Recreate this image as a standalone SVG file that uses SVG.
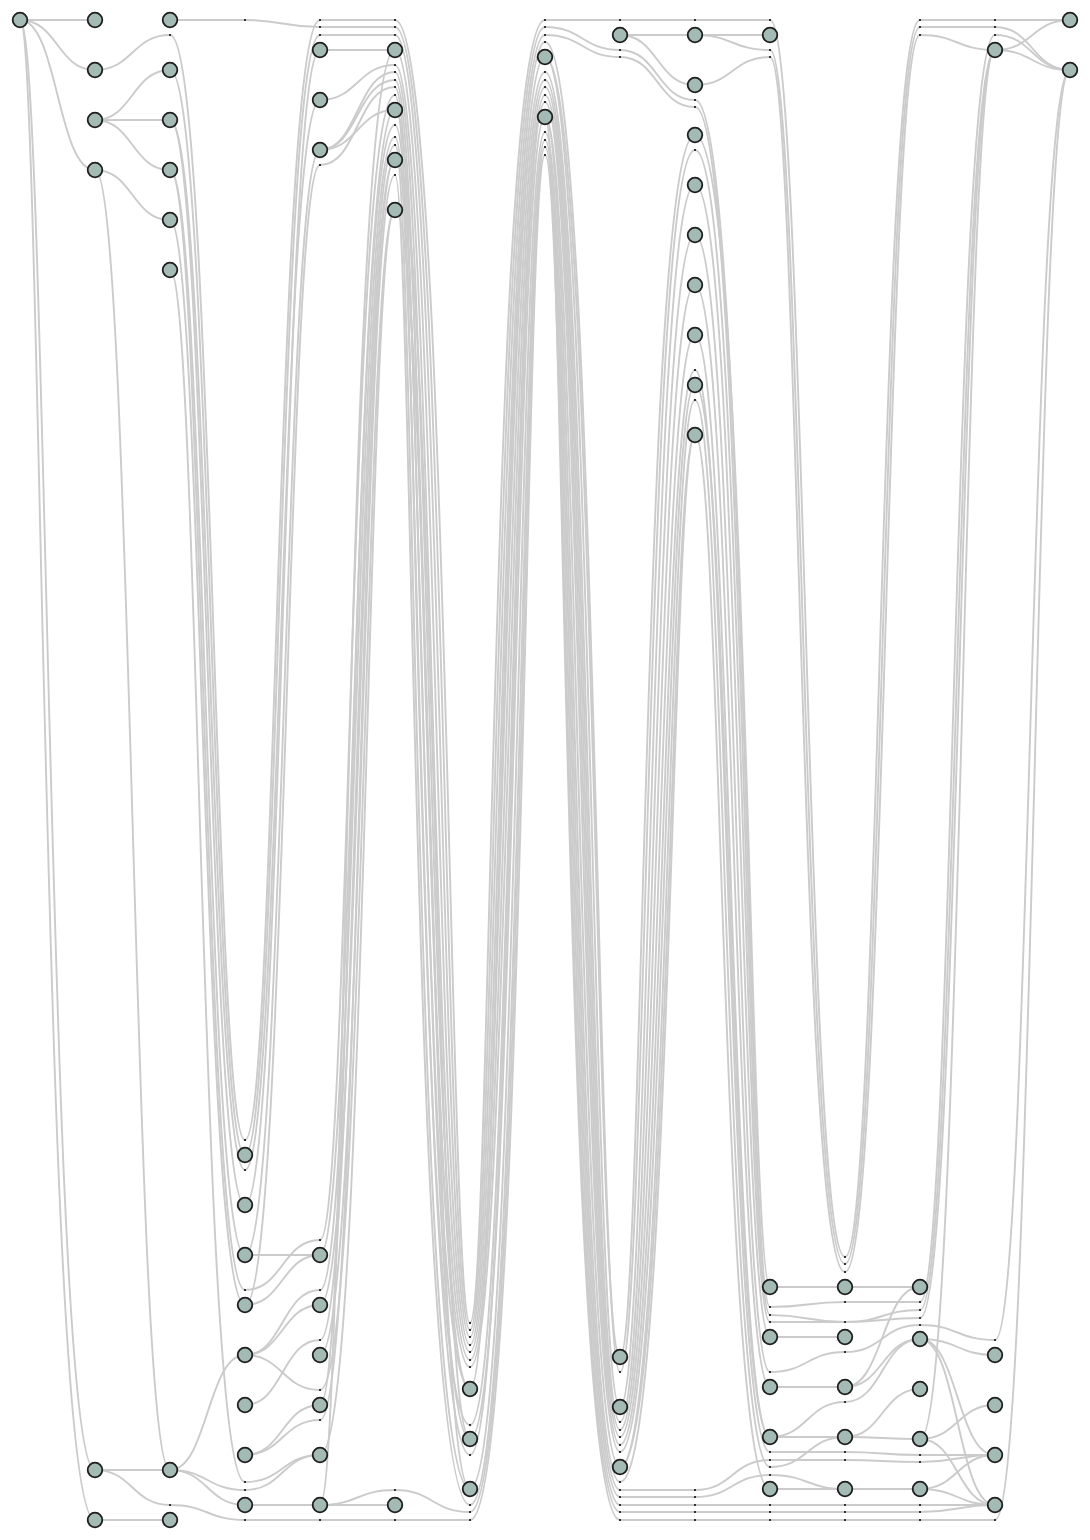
<svg xmlns="http://www.w3.org/2000/svg" width="1090" height="1540" viewBox="0 0 1090 1540">
<style>
.e{fill:none;stroke:#cbcbcb;stroke-width:1.9}
.dots{fill:#333}
.n circle{fill:#a4bab4;stroke:#1e1e1e;stroke-width:1.8}
</style>
<rect width="1090" height="1540" fill="#fff"/>
<g id="connectors">
<g class="e">
<path d="M20 20H95"/><path d="M20 20C57.5 20 57.5 70 95 70"/><path d="M20 20C57.5 20 57.5 170 95 170"/><path d="M20 20C47.5 20 47.5 1470 95 1470"/><path d="M20 20C42 20 42 1520 95 1520"/>
<path d="M95 70C132.5 70 132.5 35 170 35"/><path d="M95 120C132.5 120 132.5 70 170 70"/><path d="M95 120H170"/><path d="M95 120C132.5 120 132.5 170 170 170"/><path d="M95 170C132.5 170 132.5 220 170 220"/><path d="M95 170C132.5 170 132.5 1470 170 1470"/><path d="M95 1470H170"/><path d="M95 1470C132.5 1470 132.5 1505 170 1505"/><path d="M95 1520H170"/>
<path d="M170 20H245"/><path d="M170 35C213.5 35 213.5 1140 245 1140"/><path d="M170 70C211.5 70 211.5 1155 245 1155"/><path d="M170 120C209.5 120 209.5 1170 245 1170"/><path d="M170 120C207.5 120 207.5 1205 245 1205"/><path d="M170 170C205.5 170 205.5 1255 245 1255"/><path d="M170 170C203.5 170 203.5 1290 245 1290"/><path d="M170 220C202.5 220 202.5 1305 245 1305"/><path d="M170 270C199.5 270 199.5 1482 245 1482"/><path d="M170 1470C207.5 1470 207.5 1355 245 1355"/><path d="M170 1470C207.5 1470 207.5 1505 245 1505"/><path d="M170 1470C207.5 1470 207.5 1490 245 1490"/><path d="M170 1505C207.5 1505 207.5 1520 245 1520"/>
<path d="M245 20C282.5 20 282.5 27 320 27"/><path d="M245 1140C276.5 1140 276.5 20 320 20"/><path d="M245 1155C278.5 1155 278.5 35 320 35"/><path d="M245 1170C280.5 1170 280.5 100 320 100"/><path d="M245 1205C282.5 1205 282.5 50 320 50"/><path d="M245 1255C284.5 1255 284.5 150 320 150"/><path d="M245 1305C286.5 1305 286.5 165 320 165"/><path d="M245 1255H320"/><path d="M245 1290C282.5 1290 282.5 1240 320 1240"/><path d="M245 1305C282.5 1305 282.5 1255 320 1255"/><path d="M245 1355C282.5 1355 282.5 1290 320 1290"/><path d="M245 1355C282.5 1355 282.5 1305 320 1305"/><path d="M245 1355C282.5 1355 282.5 1390 320 1390"/><path d="M245 1405C282.5 1405 282.5 1340 320 1340"/><path d="M245 1455C282.5 1455 282.5 1405 320 1405"/><path d="M245 1455C282.5 1455 282.5 1420 320 1420"/><path d="M245 1482C282.5 1482 282.5 1455 320 1455"/><path d="M245 1490C282.5 1490 282.5 1455 320 1455"/><path d="M245 1505H320"/><path d="M245 1520H320"/>
<path d="M320 20H395"/><path d="M320 27H395"/><path d="M320 35H395"/><path d="M320 50H395"/><path d="M320 100C357.5 100 357.5 65 395 65"/><path d="M320 150C357.5 150 357.5 72 395 72"/><path d="M320 150C357.5 150 357.5 80 395 80"/><path d="M320 150C357.5 150 357.5 110 395 110"/><path d="M320 165C357.5 165 357.5 87 395 87"/><path d="M320 1240C349.5 1240 349.5 95 395 95"/><path d="M320 1255C353.5 1255 353.5 125 395 125"/><path d="M320 1290C355.5 1290 355.5 137 395 137"/><path d="M320 1305C359.5 1305 359.5 160 395 160"/><path d="M320 1340C357.5 1340 357.5 145 395 145"/><path d="M320 1355C362.5 1355 362.5 175 395 175"/><path d="M320 1390C364.5 1390 364.5 210 395 210"/><path d="M320 1405C351.5 1405 351.5 110 395 110"/><path d="M320 1420C360.5 1420 360.5 160 395 160"/><path d="M320 1455C366.5 1455 366.5 210 395 210"/><path d="M320 1505H395"/><path d="M320 1505C357.5 1505 357.5 1490 395 1490"/><path d="M320 1505C345.5 1505 345.5 50 395 50"/><path d="M320 1520H395"/>
<path d="M395 20C448.5 20 448.5 1323 470 1323"/><path d="M395 27C444.5 27 444.5 1330 470 1330"/><path d="M395 35C440.5 35 440.5 1337 470 1337"/><path d="M395 50C436.5 50 436.5 1345 470 1345"/><path d="M395 65C432.5 65 432.5 1352 470 1352"/><path d="M395 72C428.5 72 428.5 1360 470 1360"/><path d="M395 80C424.5 80 424.5 1367 470 1367"/><path d="M395 87C420.5 87 420.5 1389 470 1389"/><path d="M395 95C416.5 95 416.5 1425 470 1425"/><path d="M395 110C426.5 110 426.5 1389 470 1389"/><path d="M395 125C422.5 125 422.5 1439 470 1439"/><path d="M395 137C418.5 137 418.5 1455 470 1455"/><path d="M395 145C414.5 145 414.5 1489 470 1489"/><path d="M395 160C434.5 160 434.5 1439 470 1439"/><path d="M395 175C412.5 175 412.5 1505 470 1505"/><path d="M395 210C430.5 210 430.5 1489 470 1489"/><path d="M395 1490C432.5 1490 432.5 1512 470 1512"/><path d="M395 1520H470"/>
<path d="M470 1323C491.5 1323 491.5 20 545 20"/><path d="M470 1330C494.5 1330 494.5 27 545 27"/><path d="M470 1337C497.5 1337 497.5 35 545 35"/><path d="M470 1345C500.5 1345 500.5 42 545 42"/><path d="M470 1352C503.5 1352 503.5 72 545 72"/><path d="M470 1360C506.5 1360 506.5 80 545 80"/><path d="M470 1367C509.5 1367 509.5 87 545 87"/><path d="M470 1389C501.5 1389 501.5 57 545 57"/><path d="M470 1425C511.5 1425 511.5 95 545 95"/><path d="M470 1439C514.5 1439 514.5 117 545 117"/><path d="M470 1455C512.5 1455 512.5 102 545 102"/><path d="M470 1489C517.5 1489 517.5 132 545 132"/><path d="M470 1505C520.5 1505 520.5 140 545 140"/><path d="M470 1512C522.5 1512 522.5 147 545 147"/><path d="M470 1520C524.5 1520 524.5 155 545 155"/>
<path d="M545 20H620"/><path d="M545 27C582.5 27 582.5 50 620 50"/><path d="M545 35C582.5 35 582.5 57 620 57"/><path d="M545 42C596.5 42 596.5 1372 620 1372"/><path d="M545 57C594.5 57 594.5 1357 620 1357"/><path d="M545 57C591.5 57 591.5 1407 620 1407"/><path d="M545 72C588.5 72 588.5 1422 620 1422"/><path d="M545 80C586.5 80 586.5 1430 620 1430"/><path d="M545 87C584.5 87 584.5 1437 620 1437"/><path d="M545 95C582.5 95 582.5 1445 620 1445"/><path d="M545 102C580.5 102 580.5 1452 620 1452"/><path d="M545 117C577.5 117 577.5 1467 620 1467"/><path d="M545 117C574.5 117 574.5 1482 620 1482"/><path d="M545 132C572.5 132 572.5 1490 620 1490"/><path d="M545 140C570.5 140 570.5 1497 620 1497"/><path d="M545 147C568.5 147 568.5 1505 620 1505"/><path d="M545 155C566.5 155 566.5 1512 620 1512"/><path d="M545 117C564.5 117 564.5 1520 620 1520"/>
<path d="M620 20H695"/><path d="M620 35H695"/><path d="M620 35C657.5 35 657.5 85 695 85"/><path d="M620 50C657.5 50 657.5 100 695 100"/><path d="M620 57C657.5 57 657.5 107 695 107"/><path d="M620 1357C643.5 1357 643.5 135 695 135"/><path d="M620 1372C646.5 1372 646.5 150 695 150"/><path d="M620 1407C649.5 1407 649.5 185 695 185"/><path d="M620 1422C652.5 1422 652.5 235 695 235"/><path d="M620 1430C655.5 1430 655.5 285 695 285"/><path d="M620 1437C658.5 1437 658.5 335 695 335"/><path d="M620 1445C661.5 1445 661.5 370 695 370"/><path d="M620 1452C664.5 1452 664.5 385 695 385"/><path d="M620 1467C667.5 1467 667.5 400 695 400"/><path d="M620 1467C669.5 1467 669.5 435 695 435"/><path d="M620 1482C671.5 1482 671.5 435 695 435"/><path d="M620 1490H695"/><path d="M620 1497H695"/><path d="M620 1505H695"/><path d="M620 1512H695"/><path d="M620 1520H695"/>
<path d="M695 20H770"/><path d="M695 35H770"/><path d="M695 35C732.5 35 732.5 50 770 50"/><path d="M695 85C732.5 85 732.5 57 770 57"/><path d="M695 100C746.5 100 746.5 1307 770 1307"/><path d="M695 107C744.5 107 744.5 1315 770 1315"/><path d="M695 135C748.5 135 748.5 1287 770 1287"/><path d="M695 150C742.5 150 742.5 1322 770 1322"/><path d="M695 185C739.5 185 739.5 1337 770 1337"/><path d="M695 235C736.5 235 736.5 1372 770 1372"/><path d="M695 285C733.5 285 733.5 1387 770 1387"/><path d="M695 335C730.5 335 730.5 1437 770 1437"/><path d="M695 370C727.5 370 727.5 1452 770 1452"/><path d="M695 385C729.5 385 729.5 1437 770 1437"/><path d="M695 400C724.5 400 724.5 1467 770 1467"/><path d="M695 435C721.5 435 721.5 1489 770 1489"/><path d="M695 1490C732.5 1490 732.5 1460 770 1460"/><path d="M695 1497C732.5 1497 732.5 1475 770 1475"/><path d="M695 1505H770"/><path d="M695 1512H770"/><path d="M695 1520H770"/>
<path d="M770 20C805.5 20 805.5 1257 845 1257"/><path d="M770 50C802.5 50 802.5 1264 845 1264"/><path d="M770 57C799.5 57 799.5 1272 845 1272"/><path d="M770 1287H845"/><path d="M770 1307C807.5 1307 807.5 1302 845 1302"/><path d="M770 1315C807.5 1315 807.5 1322 845 1322"/><path d="M770 1322H845"/><path d="M770 1337H845"/><path d="M770 1372C807.5 1372 807.5 1352 845 1352"/><path d="M770 1387H845"/><path d="M770 1437C807.5 1437 807.5 1402 845 1402"/><path d="M770 1437H845"/><path d="M770 1452H845"/><path d="M770 1460H845"/><path d="M770 1467C807.5 1467 807.5 1437 845 1437"/><path d="M770 1475C807.5 1475 807.5 1489 845 1489"/><path d="M770 1489H845"/><path d="M770 1505H845"/><path d="M770 1512H845"/><path d="M770 1520H845"/>
<path d="M845 1257C879.5 1257 879.5 20 920 20"/><path d="M845 1264C882.5 1264 882.5 27 920 27"/><path d="M845 1272C885.5 1272 885.5 35 920 35"/><path d="M845 1287H920"/><path d="M845 1302H920"/><path d="M845 1322C882.5 1322 882.5 1310 920 1310"/><path d="M845 1322C882.5 1322 882.5 1318 920 1318"/><path d="M845 1352C882.5 1352 882.5 1325 920 1325"/><path d="M845 1387C882.5 1387 882.5 1287 920 1287"/><path d="M845 1387C882.5 1387 882.5 1339 920 1339"/><path d="M845 1402C882.5 1402 882.5 1339 920 1339"/><path d="M845 1437C882.5 1437 882.5 1389 920 1389"/><path d="M845 1437C882.5 1437 882.5 1439 920 1439"/><path d="M845 1452C882.5 1452 882.5 1455 920 1455"/><path d="M845 1460C882.5 1460 882.5 1462 920 1462"/><path d="M845 1489H920"/><path d="M845 1505H920"/><path d="M845 1512H920"/><path d="M845 1520H920"/>
<path d="M920 20H995"/><path d="M920 27H995"/><path d="M920 35C957.5 35 957.5 50 995 50"/><path d="M920 1302C953.5 1302 953.5 35 995 35"/><path d="M920 1310C956.5 1310 956.5 50 995 50"/><path d="M920 1318C959.5 1318 959.5 50 995 50"/><path d="M920 1439C962.5 1439 962.5 50 995 50"/><path d="M920 1325C957.5 1325 957.5 1340 995 1340"/><path d="M920 1339C957.5 1339 957.5 1355 995 1355"/><path d="M920 1339C957.5 1339 957.5 1455 995 1455"/><path d="M920 1339C957.5 1339 957.5 1505 995 1505"/><path d="M920 1439C957.5 1439 957.5 1405 995 1405"/><path d="M920 1439C957.5 1439 957.5 1505 995 1505"/><path d="M920 1455H995"/><path d="M920 1462C957.5 1462 957.5 1455 995 1455"/><path d="M920 1489C957.5 1489 957.5 1455 995 1455"/><path d="M920 1489C957.5 1489 957.5 1505 995 1505"/><path d="M920 1505H995"/><path d="M920 1512C957.5 1512 957.5 1505 995 1505"/><path d="M920 1520H995"/>
<path d="M995 20H1070"/><path d="M995 27C1032.5 27 1032.5 70 1070 70"/><path d="M995 35C1032.5 35 1032.5 70 1070 70"/><path d="M995 50C1032.5 50 1032.5 20 1070 20"/><path d="M995 50C1032.5 50 1032.5 70 1070 70"/><path d="M995 1340C1030.5 1340 1030.5 70 1070 70"/><path d="M995 1520C1034.5 1520 1034.5 70 1070 70"/>
</g>
<path class="dots" d="M169 34h2v2h-2zM169 1504h2v2h-2z
M244 19h2v2h-2zM244 1139h2v2h-2zM244 1169h2v2h-2zM244 1289h2v2h-2zM244 1481h2v2h-2zM244 1489h2v2h-2zM244 1519h2v2h-2z
M319 19h2v2h-2zM319 26h2v2h-2zM319 34h2v2h-2zM319 164h2v2h-2zM319 1239h2v2h-2zM319 1289h2v2h-2zM319 1339h2v2h-2zM319 1389h2v2h-2zM319 1419h2v2h-2zM319 1519h2v2h-2z
M394 19h2v2h-2zM394 26h2v2h-2zM394 34h2v2h-2zM394 64h2v2h-2zM394 71h2v2h-2zM394 79h2v2h-2zM394 86h2v2h-2zM394 94h2v2h-2zM394 124h2v2h-2zM394 136h2v2h-2zM394 144h2v2h-2zM394 174h2v2h-2zM394 1489h2v2h-2zM394 1519h2v2h-2z
M469 1322h2v2h-2zM469 1329h2v2h-2zM469 1336h2v2h-2zM469 1344h2v2h-2zM469 1351h2v2h-2zM469 1359h2v2h-2zM469 1366h2v2h-2zM469 1424h2v2h-2zM469 1454h2v2h-2zM469 1504h2v2h-2zM469 1511h2v2h-2zM469 1519h2v2h-2z
M544 19h2v2h-2zM544 26h2v2h-2zM544 34h2v2h-2zM544 41h2v2h-2zM544 71h2v2h-2zM544 79h2v2h-2zM544 86h2v2h-2zM544 94h2v2h-2zM544 101h2v2h-2zM544 131h2v2h-2zM544 139h2v2h-2zM544 146h2v2h-2zM544 154h2v2h-2z
M619 19h2v2h-2zM619 49h2v2h-2zM619 56h2v2h-2zM619 1371h2v2h-2zM619 1421h2v2h-2zM619 1429h2v2h-2zM619 1436h2v2h-2zM619 1444h2v2h-2zM619 1451h2v2h-2zM619 1481h2v2h-2zM619 1489h2v2h-2zM619 1496h2v2h-2zM619 1504h2v2h-2zM619 1511h2v2h-2zM619 1519h2v2h-2z
M694 19h2v2h-2zM694 99h2v2h-2zM694 106h2v2h-2zM694 149h2v2h-2zM694 369h2v2h-2zM694 399h2v2h-2zM694 1489h2v2h-2zM694 1496h2v2h-2zM694 1504h2v2h-2zM694 1511h2v2h-2zM694 1519h2v2h-2z
M769 19h2v2h-2zM769 49h2v2h-2zM769 56h2v2h-2zM769 1306h2v2h-2zM769 1314h2v2h-2zM769 1321h2v2h-2zM769 1371h2v2h-2zM769 1451h2v2h-2zM769 1459h2v2h-2zM769 1466h2v2h-2zM769 1474h2v2h-2zM769 1504h2v2h-2zM769 1511h2v2h-2zM769 1519h2v2h-2z
M844 1256h2v2h-2zM844 1263h2v2h-2zM844 1271h2v2h-2zM844 1301h2v2h-2zM844 1321h2v2h-2zM844 1351h2v2h-2zM844 1401h2v2h-2zM844 1451h2v2h-2zM844 1459h2v2h-2zM844 1504h2v2h-2zM844 1511h2v2h-2zM844 1519h2v2h-2z
M919 19h2v2h-2zM919 26h2v2h-2zM919 34h2v2h-2zM919 1301h2v2h-2zM919 1309h2v2h-2zM919 1317h2v2h-2zM919 1324h2v2h-2zM919 1454h2v2h-2zM919 1461h2v2h-2zM919 1504h2v2h-2zM919 1511h2v2h-2zM919 1519h2v2h-2z
M994 19h2v2h-2zM994 26h2v2h-2zM994 34h2v2h-2zM994 1339h2v2h-2zM994 1519h2v2h-2z"/>
</g>
<g id="nodes" class="n">
<g id="n0"><circle cx="20" cy="20" r="7.3"/></g>
<g id="n1a"><circle cx="95" cy="20" r="7.3"/></g>
<g id="n1b"><circle cx="95" cy="70" r="7.3"/></g>
<g id="n1c"><circle cx="95" cy="120" r="7.3"/></g>
<g id="n1d"><circle cx="95" cy="170" r="7.3"/></g>
<g id="n1e"><circle cx="95" cy="1470" r="7.3"/></g>
<g id="n1f"><circle cx="95" cy="1520" r="7.3"/></g>
<g id="n2a"><circle cx="170" cy="20" r="7.3"/></g>
<g id="n2b"><circle cx="170" cy="70" r="7.3"/></g>
<g id="n2c"><circle cx="170" cy="120" r="7.3"/></g>
<g id="n2d"><circle cx="170" cy="170" r="7.3"/></g>
<g id="n2e"><circle cx="170" cy="220" r="7.3"/></g>
<g id="n2f"><circle cx="170" cy="270" r="7.3"/></g>
<g id="n2g"><circle cx="170" cy="1470" r="7.3"/></g>
<g id="n2h"><circle cx="170" cy="1520" r="7.3"/></g>
<g id="n3a"><circle cx="245" cy="1155" r="7.3"/></g>
<g id="n3b"><circle cx="245" cy="1205" r="7.3"/></g>
<g id="n3c"><circle cx="245" cy="1255" r="7.3"/></g>
<g id="n3d"><circle cx="245" cy="1305" r="7.3"/></g>
<g id="n3e"><circle cx="245" cy="1355" r="7.3"/></g>
<g id="n3f"><circle cx="245" cy="1405" r="7.3"/></g>
<g id="n3g"><circle cx="245" cy="1455" r="7.3"/></g>
<g id="n3h"><circle cx="245" cy="1505" r="7.3"/></g>
<g id="n4a"><circle cx="320" cy="50" r="7.3"/></g>
<g id="n4b"><circle cx="320" cy="100" r="7.3"/></g>
<g id="n4c"><circle cx="320" cy="150" r="7.3"/></g>
<g id="n4d"><circle cx="320" cy="1255" r="7.3"/></g>
<g id="n4e"><circle cx="320" cy="1305" r="7.3"/></g>
<g id="n4f"><circle cx="320" cy="1355" r="7.3"/></g>
<g id="n4g"><circle cx="320" cy="1405" r="7.3"/></g>
<g id="n4h"><circle cx="320" cy="1455" r="7.3"/></g>
<g id="n4i"><circle cx="320" cy="1505" r="7.3"/></g>
<g id="n5a"><circle cx="395" cy="50" r="7.3"/></g>
<g id="n5b"><circle cx="395" cy="110" r="7.3"/></g>
<g id="n5c"><circle cx="395" cy="160" r="7.3"/></g>
<g id="n5d"><circle cx="395" cy="210" r="7.3"/></g>
<g id="n5e"><circle cx="395" cy="1505" r="7.3"/></g>
<g id="n6a"><circle cx="470" cy="1389" r="7.3"/></g>
<g id="n6b"><circle cx="470" cy="1439" r="7.3"/></g>
<g id="n6c"><circle cx="470" cy="1489" r="7.3"/></g>
<g id="n7a"><circle cx="545" cy="57" r="7.3"/></g>
<g id="n7b"><circle cx="545" cy="117" r="7.3"/></g>
<g id="n8a"><circle cx="620" cy="35" r="7.3"/></g>
<g id="n8b"><circle cx="620" cy="1357" r="7.3"/></g>
<g id="n8c"><circle cx="620" cy="1407" r="7.3"/></g>
<g id="n8d"><circle cx="620" cy="1467" r="7.3"/></g>
<g id="n9a"><circle cx="695" cy="35" r="7.3"/></g>
<g id="n9b"><circle cx="695" cy="85" r="7.3"/></g>
<g id="n9c"><circle cx="695" cy="135" r="7.3"/></g>
<g id="n9d"><circle cx="695" cy="185" r="7.3"/></g>
<g id="n9e"><circle cx="695" cy="235" r="7.3"/></g>
<g id="n9f"><circle cx="695" cy="285" r="7.3"/></g>
<g id="n9g"><circle cx="695" cy="335" r="7.3"/></g>
<g id="n9h"><circle cx="695" cy="385" r="7.3"/></g>
<g id="n9i"><circle cx="695" cy="435" r="7.3"/></g>
<g id="n10a"><circle cx="770" cy="35" r="7.3"/></g>
<g id="n10b"><circle cx="770" cy="1287" r="7.3"/></g>
<g id="n10c"><circle cx="770" cy="1337" r="7.3"/></g>
<g id="n10d"><circle cx="770" cy="1387" r="7.3"/></g>
<g id="n10e"><circle cx="770" cy="1437" r="7.3"/></g>
<g id="n10f"><circle cx="770" cy="1489" r="7.3"/></g>
<g id="n11a"><circle cx="845" cy="1287" r="7.3"/></g>
<g id="n11b"><circle cx="845" cy="1337" r="7.3"/></g>
<g id="n11c"><circle cx="845" cy="1387" r="7.3"/></g>
<g id="n11d"><circle cx="845" cy="1437" r="7.3"/></g>
<g id="n11e"><circle cx="845" cy="1489" r="7.3"/></g>
<g id="n12a"><circle cx="920" cy="1287" r="7.3"/></g>
<g id="n12b"><circle cx="920" cy="1339" r="7.3"/></g>
<g id="n12c"><circle cx="920" cy="1389" r="7.3"/></g>
<g id="n12d"><circle cx="920" cy="1439" r="7.3"/></g>
<g id="n12e"><circle cx="920" cy="1489" r="7.3"/></g>
<g id="n13a"><circle cx="995" cy="50" r="7.3"/></g>
<g id="n13b"><circle cx="995" cy="1355" r="7.3"/></g>
<g id="n13c"><circle cx="995" cy="1405" r="7.3"/></g>
<g id="n13d"><circle cx="995" cy="1455" r="7.3"/></g>
<g id="n13e"><circle cx="995" cy="1505" r="7.3"/></g>
<g id="n14a"><circle cx="1070" cy="20" r="7.3"/></g>
<g id="n14b"><circle cx="1070" cy="70" r="7.3"/></g>
</g>
</svg>
